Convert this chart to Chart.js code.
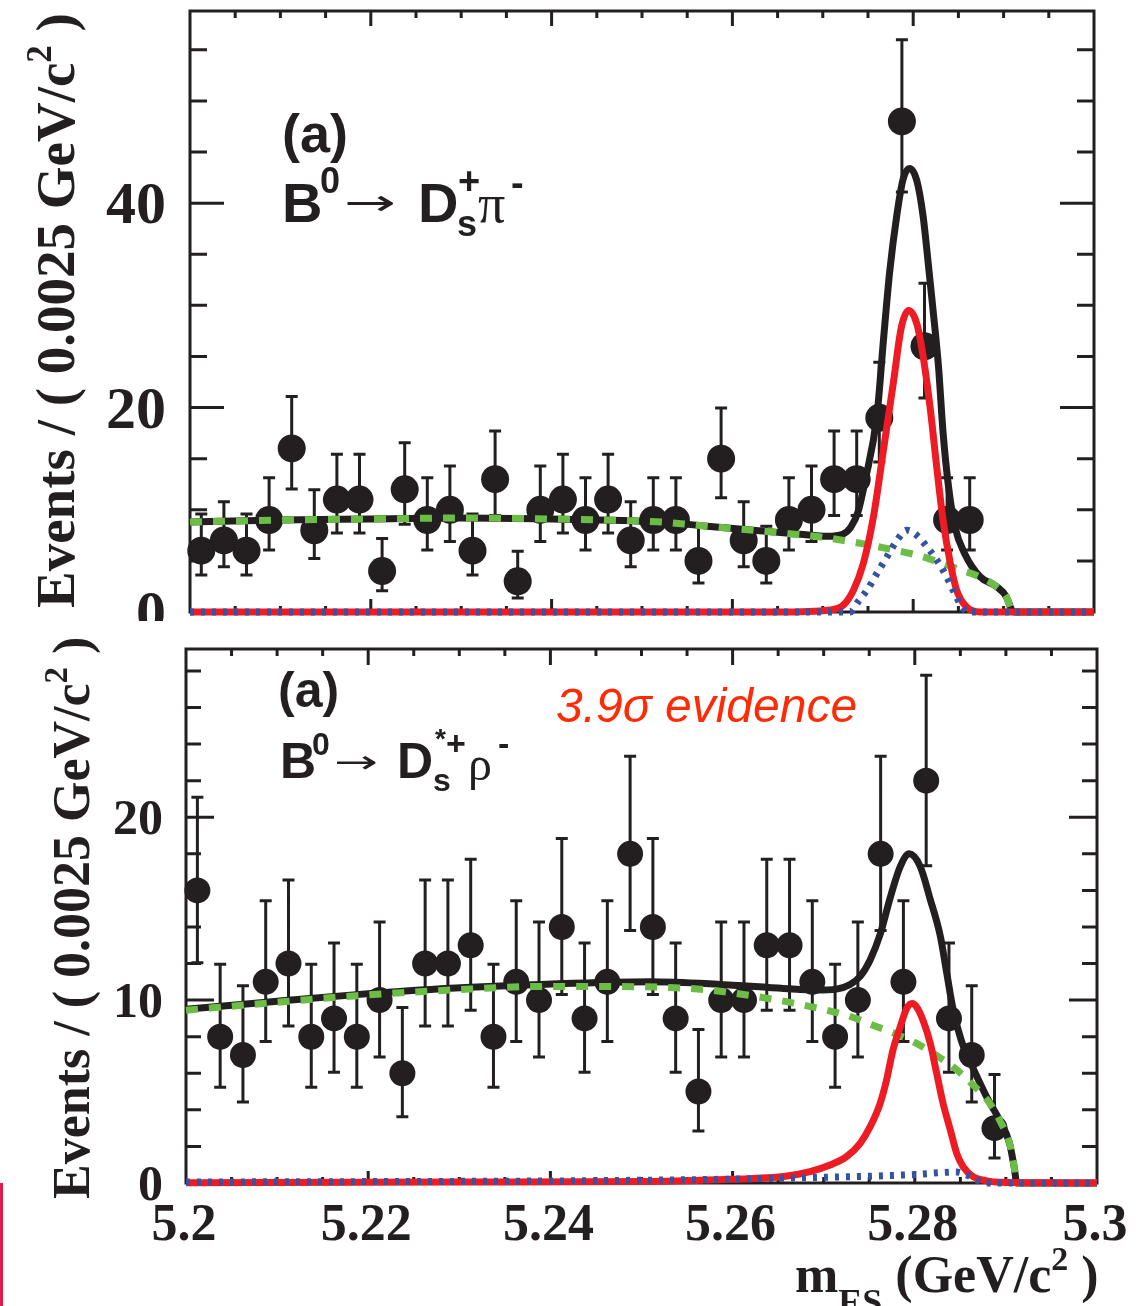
<!DOCTYPE html>
<html>
<head>
<meta charset="utf-8">
<script src="https://cdn.jsdelivr.net/npm/chart.js@4.4.1/dist/chart.umd.min.js"></script>
<style>
  html, body { margin: 0; padding: 0; background: #fff; }
  #wrap { position: relative; width: 1146px; height: 1306px; overflow: hidden; }
  #wrap canvas { position: absolute; left: 0; }
  #topPanel { top: 0; }
  #bottomPanel { top: 621px; }
  .edge { position: absolute; left: 0; top: 1183px; width: 3px; height: 123px; background: #e31b4c; }
</style>
</head>
<body>
<div id="wrap">
  <canvas id="topPanel" width="1146" height="621"></canvas>
  <canvas id="bottomPanel" width="1146" height="685"></canvas>
  <div class="edge"></div>
</div>
<script>
// histogram binning (m_ES, 40 bins of 0.0025 GeV/c^2)
const binLow = 5.2;
const binWidth = 0.0025;

// B0 -> Ds+ pi-  (events per bin, leading bins only; the rest are empty)
const topCounts = [6, 7, 6, 9, 16, 8, 11, 11, 4, 12, 9, 10, 6, 13, 3, 10, 11, 9, 11, 7,
                   9, 9, 5, 15, 7, 5, 9, 10, 13, 13, 19, 48, 26, 9, 9];
// B0 -> Ds*+ rho-
const bottomCounts = [16, 8, 7, 11, 12, 8, 9, 8, 10, 6, 12, 12, 13, 8, 11, 10, 14, 9, 11, 18,
                      14, 9, 5, 10, 10, 13, 13, 11, 8, 10, 18, 11, 22, 9, 7, 3];

// fit curves, top panel
const topTotalX = [5.2, 5.21, 5.22, 5.23, 5.24, 5.2516, 5.2572, 5.2623, 5.2675, 5.2705, 5.2722, 5.2731, 5.2739,
                   5.2747, 5.2760, 5.2767, 5.2774, 5.2782, 5.2789, 5.2796, 5.2804, 5.2811, 5.2817, 5.2822,
                   5.2828, 5.2833, 5.2839, 5.2846, 5.2857, 5.2874, 5.2892, 5.2903, 5.2909, 5.2912, 5.3];
const topTotalY = [8.8, 9.0, 9.1, 9.2, 9.1, 8.83, 8.4, 8.0, 7.6, 7.4, 7.6, 8.3, 9.8,
                   12.9, 19.3, 26.5, 33.3, 38.9, 42.4, 43.4, 42.2, 38.7, 33.8, 29.5,
                   24.0, 17.6, 12.3, 8.4, 5.7, 3.45, 2.5, 1.5, 0.2, 0, 0];
const topBkgX = [5.2, 5.21, 5.22, 5.23, 5.24, 5.2516, 5.2546, 5.2572, 5.2597, 5.2623, 5.2649, 5.2675, 5.2701,
                 5.2726, 5.2752, 5.2778, 5.2804, 5.2826, 5.2852, 5.2874, 5.2892, 5.2903, 5.2909, 5.2912, 5.3];
const topBkgY = [8.8, 9.0, 9.1, 9.2, 9.1, 8.83, 8.62, 8.4, 8.2, 8.0, 7.78, 7.55, 7.3,
                 6.95, 6.55, 6.08, 5.57, 4.95, 4.15, 3.42, 2.5, 1.5, 0.2, 0, 0];
const topSigX = [5.2, 5.265, 5.2708, 5.2723, 5.2734, 5.2745, 5.2756, 5.2767, 5.2778, 5.2787, 5.2795,
                 5.2804, 5.2811, 5.2819, 5.2826, 5.2833, 5.2841, 5.2848, 5.2859, 5.2874, 5.3];
const topSigY = [0, 0, 0.2, 0.7, 2.15, 4.8, 9.3, 15.8, 22.4, 27.9, 29.5,
                 28.2, 25.0, 19.8, 14.2, 9.0, 4.8, 2.15, 0.5, 0, 0];
const topPeakX = [5.2, 5.2730, 5.2739, 5.2749, 5.2760, 5.2771, 5.2782, 5.2793, 5.2804, 5.2815,
                  5.2826, 5.2837, 5.2846, 5.2854, 5.2861, 5.3];
const topPeakY = [0, 0, 1.0, 2.15, 3.8, 5.4, 7.0, 8.0, 7.5, 6.4, 5.1, 3.45, 1.8, 0.5, 0, 0];

// fit curves, bottom panel
const botTotalX = [5.2, 5.2085, 5.2187, 5.229, 5.2396, 5.2509, 5.2583, 5.2656, 5.2692, 5.2714, 5.2729,
                   5.2740, 5.2751, 5.2762, 5.2773, 5.2784, 5.2794, 5.2806, 5.2817, 5.2828, 5.2835,
                   5.2842, 5.2851, 5.2862, 5.2875, 5.2881, 5.2894, 5.2904, 5.2909, 5.2912, 5.3];
const botTotalY = [9.5, 9.87, 10.3, 10.65, 10.87, 11.0, 10.87, 10.64, 10.55, 10.6, 10.85,
                   11.3, 12.2, 13.6, 15.6, 17.3, 18.0, 17.3, 15.5, 13.5, 11.5,
                   9.5, 7.8, 6.5, 5.1, 4.5, 3.35, 2.17, 0.9, 0, 0];
const botBkgX = [5.2, 5.2085, 5.2187, 5.229, 5.2396, 5.2498, 5.2575, 5.2628, 5.2678, 5.2730, 5.2754,
                 5.2778, 5.2802, 5.2823, 5.2844, 5.2862, 5.2881, 5.2894, 5.2904, 5.2909, 5.2912, 5.3];
const botBkgY = [9.45, 9.82, 10.24, 10.55, 10.75, 10.73, 10.55, 10.18, 9.73, 9.09, 8.63,
                 8.18, 7.63, 7.0, 6.27, 5.45, 4.44, 3.35, 2.17, 0.9, 0, 0];
const botSigX = [5.2, 5.23, 5.2509, 5.2597, 5.2656, 5.2685, 5.2707, 5.2725, 5.2740, 5.2751, 5.2762,
                 5.2769, 5.2776, 5.2784, 5.2791, 5.2797, 5.2802, 5.2809, 5.2817, 5.2824, 5.2831,
                 5.2839, 5.2846, 5.2853, 5.2864, 5.2879, 5.2894, 5.3];
const botSigY = [0.02, 0.05, 0.08, 0.2, 0.35, 0.62, 0.98, 1.44, 2.17, 3.08, 4.36,
                 5.63, 7.27, 8.54, 9.54, 9.82, 9.63, 8.9, 7.63, 6.0, 4.36,
                 2.9, 1.62, 0.9, 0.35, 0.12, 0.04, 0];
const botPeakX = [5.2, 5.25, 5.2692, 5.2795, 5.2846, 5.2857, 5.2868, 5.2879, 5.3];
const botPeakY = [0.05, 0.15, 0.3, 0.45, 0.6, 0.44, 0.16, 0, 0];

// axis ticks
const xTicks = [5.2, 5.22, 5.24, 5.26, 5.28, 5.3];
const xTickLabels = ['5.2', '5.22', '5.24', '5.26', '5.28', '5.3'];
const topYTicks = [0, 20, 40];
const bottomYTicks = [0, 10, 20];

const INK = '#231f20';
const RED = '#ed1c24';
const GREEN = '#6cbd45';
const BLUE = '#3553a5';
const SERIF = '"Liberation Serif", "Times New Roman", serif';
const SANS = '"Liberation Sans", Arial, Helvetica, sans-serif';

function binCenter(i) { return binLow + (i + 0.5) * binWidth; }

// Gehrels approximation of the 68% Poisson interval
function poissonErr(n) {
  const lo = n * Math.pow(1 - 1 / (9 * n) - 1 / (3 * Math.sqrt(n)), 3);
  return [n - lo, Math.sqrt(n + 0.75) + 1];
}

function pts(xs, ys) { return xs.map((x, i) => ({ x, y: ys[i] })); }

function curve(xs, ys, color, width, dash) {
  return {
    data: pts(xs, ys), showLine: true, pointRadius: 0, borderColor: color, borderWidth: width,
    borderDash: dash || [], borderCapStyle: 'butt', cubicInterpolationMode: 'monotone', fill: false, clip: 10
  };
}

function panelPlugin(p) {
  return {
    id: 'panel' + p.name,
    beforeDatasetsDraw(chart) {
      const { ctx, chartArea: a, scales: { x, y } } = chart;
      ctx.save();
      ctx.strokeStyle = INK;
      ctx.lineWidth = 3;
      ctx.strokeRect(a.left, a.top, a.right - a.left, a.bottom - a.top);
      ctx.beginPath();
      for (let k = 1; k < 20; k++) {
        const px = x.getPixelForValue(binLow + k * 0.005);
        const major = k % 4 === 0;
        ctx.moveTo(px, a.bottom); ctx.lineTo(px, a.bottom - (major ? p.xb[0] : p.xb[1]));
        ctx.moveTo(px, a.top); ctx.lineTo(px, a.top + (major ? p.xt[0] : p.xt[1]));
      }
      for (let v = p.yMinor; v < y.max; v += p.yMinor) {
        const py = y.getPixelForValue(v);
        const major = Math.abs(v % p.yMajor) < 1e-9;
        const len = major ? p.yl[0] : p.yl[1];
        ctx.moveTo(a.left, py); ctx.lineTo(a.left + len, py);
        ctx.moveTo(a.right, py); ctx.lineTo(a.right - len, py);
      }
      ctx.stroke();

      // error bars
      ctx.beginPath();
      p.counts.forEach((n, i) => {
        const cx = x.getPixelForValue(binCenter(i));
        const [dl, du] = poissonErr(n);
        const y1 = y.getPixelForValue(n - dl), y2 = y.getPixelForValue(n + du);
        ctx.moveTo(cx, y1); ctx.lineTo(cx, y2);
        ctx.moveTo(cx - 6, y1); ctx.lineTo(cx + 6, y1);
        ctx.moveTo(cx - 6, y2); ctx.lineTo(cx + 6, y2);
      });
      ctx.stroke();
      ctx.restore();
    },
    afterDraw(chart) {
      const { ctx, scales: { x, y } } = chart;
      const off = p.offsetY;
      ctx.save();
      ctx.fillStyle = INK;
      // y tick labels
      ctx.textAlign = 'right';
      ctx.font = 'bold ' + p.yLabelSize + 'px ' + SERIF;
      p.yTicks.forEach(v => {
        ctx.fillText(String(v), p.yLabelRight, y.getPixelForValue(v) + 0.338 * p.yLabelSize);
      });
      // x tick labels and title
      if (p.xLabels) {
        ctx.textAlign = 'center';
        ctx.font = 'bold 52px ' + SERIF;
        xTicks.forEach((v, i) => ctx.fillText(xTickLabels[i], x.getPixelForValue(v) - 2, 1240 - off));
        ctx.textAlign = 'left';
        let cx = 795;
        [['m', 52, 0], ['ES', 36, 22], [' (GeV/c', 52, 0], ['2', 34, -22], [' )', 52, 0]].forEach(([t, s, dy]) => {
          ctx.font = 'bold ' + s + 'px ' + SERIF;
          ctx.fillText(t, cx, 1292 - off + dy);
          cx += ctx.measureText(t).width;
        });
      }
      // y axis title
      ctx.save();
      ctx.translate(p.title.x, p.title.y - off);
      ctx.rotate(-Math.PI / 2);
      ctx.textAlign = 'left';
      let tx = 0;
      [['Events / ( 0.0025 GeV/c', 1, 0], ['2', 0.64, -0.42], [' )', 1, 0]].forEach(([t, s, dy]) => {
        ctx.font = 'bold ' + Math.round(p.title.size * s) + 'px ' + SERIF;
        ctx.fillText(t, tx, dy * p.title.size);
        tx += ctx.measureText(t).width;
      });
      ctx.restore();
      // decay labels
      ctx.textAlign = 'left';
      p.texts.forEach(([t, tx0, ty, font, color, w]) => {
        ctx.font = font;
        ctx.fillStyle = color || INK;
        if (w) {
          const m = ctx.measureText(t).width;
          ctx.save();
          ctx.translate(tx0, ty - off);
          ctx.scale(w / m, 1);
          ctx.fillText(t, 0, 0);
          ctx.restore();
        } else {
          ctx.fillText(t, tx0, ty - off);
        }
      });
      ctx.restore();
    }
  };
}

function makeChart(id, cfg) {
  return new Chart(document.getElementById(id), {
    type: 'scatter',
    data: {
      datasets: [
        curve(cfg.peak[0], cfg.peak[1], BLUE, 7, [4, 7]),
        curve(cfg.sig[0], cfg.sig[1], RED, 7),
        curve(cfg.bkg[0], cfg.bkg[1], GREEN, 7, [12, 11]),
        curve(cfg.total[0], cfg.total[1], INK, 7),
        { data: cfg.counts.map((n, i) => ({ x: binCenter(i), y: n })), pointRadius: cfg.r,
          pointBackgroundColor: INK, pointBorderWidth: 0, clip: false }
      ]
    },
    options: {
      responsive: false, animation: false, devicePixelRatio: 1,
      layout: { padding: cfg.pad, autoPadding: false },
      scales: {
        x: { type: 'linear', min: 5.2, max: 5.3, display: false },
        y: { type: 'linear', min: 0, max: cfg.yMax, display: false }
      },
      plugins: { legend: { display: false }, tooltip: { enabled: false } },
      events: []
    },
    plugins: [cfg.plugin]
  });
}

makeChart('topPanel', {
  counts: topCounts, r: 14, yMax: 58.8,
  total: [topTotalX, topTotalY], bkg: [topBkgX, topBkgY], sig: [topSigX, topSigY], peak: [topPeakX, topPeakY],
  pad: { left: 190, top: 11, right: 52, bottom: 9 },
  plugin: panelPlugin({
    name: 'Top', offsetY: 0, counts: topCounts, yTicks: topYTicks, yMajor: 20, yMinor: 5,
    xb: [13, 6], xt: [15, 7], yl: [34, 17], yLabelSize: 60, yLabelRight: 166, xLabels: false,
    title: { x: 74, y: 608, size: 55 },
    texts: [
      ['(a)', 282, 152, 'bold 54px ' + SANS],
      ['B', 282, 222, 'bold 56px ' + SANS],
      ['0', 320, 193, 'bold 36px ' + SANS],
      ['\u2192', 344, 215, '36px "DejaVu Sans"', INK, 52],
      ['D', 418, 222, 'bold 56px ' + SANS],
      ['+', 458, 194, 'bold 38px ' + SANS],
      ['s', 457, 236, 'bold 36px ' + SANS],
      ['\u03c0', 478, 222, '54px ' + SERIF],
      ['-', 511, 196, 'bold 38px ' + SANS]
    ]
  })
});

makeChart('bottomPanel', {
  counts: bottomCounts, r: 13, yMax: 29.2,
  total: [botTotalX, botTotalY], bkg: [botBkgX, botBkgY], sig: [botSigX, botSigY], peak: [botPeakX, botPeakY],
  pad: { left: 186, top: 28, right: 49, bottom: 123 },
  plugin: panelPlugin({
    name: 'Bottom', offsetY: 621, counts: bottomCounts, yTicks: bottomYTicks, yMajor: 10, yMinor: 2,
    xb: [12, 6], xt: [16, 7], yl: [28, 15], yLabelSize: 50, yLabelRight: 163, xLabels: true,
    title: { x: 89, y: 1199, size: 52 },
    texts: [
      ['(a)', 278, 707, 'bold 50px ' + SANS],
      ['B', 280, 778, 'bold 50px ' + SANS],
      ['0', 312, 755, 'bold 32px ' + SANS],
      ['\u2192', 334, 773, '32px "DejaVu Sans"', INK, 44],
      ['D', 397, 778, 'bold 50px ' + SANS],
      ['*', 435, 748, 'bold 28px ' + SANS],
      ['+', 446, 755, 'bold 34px ' + SANS],
      ['s', 433, 791, 'bold 32px ' + SANS],
      ['\u03c1', 468, 780, '48px ' + SERIF],
      ['-', 498, 755, 'bold 34px ' + SANS],
      ['3.9\u03c3 evidence', 556, 722, 'italic 48px ' + SANS, '#ff2b06']
    ]
  })
});
</script>
</body>
</html>
